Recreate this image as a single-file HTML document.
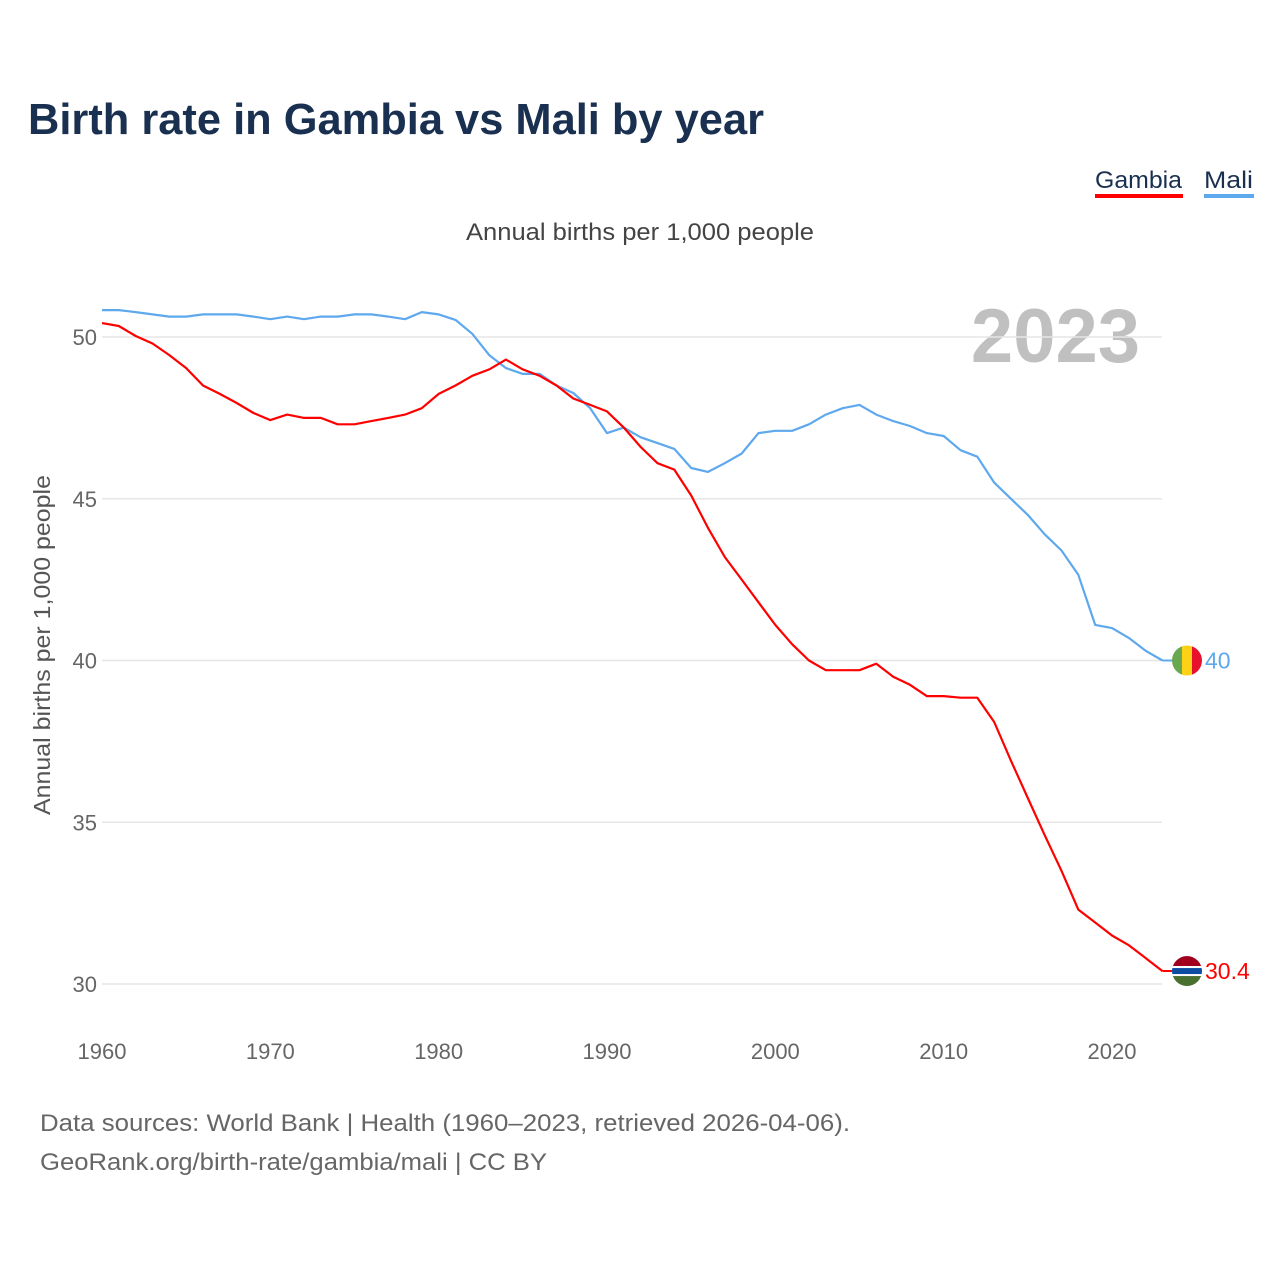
<!DOCTYPE html>
<html><head><meta charset="utf-8"><style>
html,body{margin:0;padding:0;background:#fff;}
svg{display:block;font-family:"Liberation Sans",sans-serif;}
</style></head><body>
<svg id="chart" width="1280" height="1280" viewBox="0 0 1280 1280" xmlns="http://www.w3.org/2000/svg">
<rect width="1280" height="1280" fill="#fff"/>
<text x="28" y="134" font-size="44" font-weight="bold" fill="#1a3050" textLength="736" lengthAdjust="spacingAndGlyphs">Birth rate in Gambia vs Mali by year</text>
<g>
<text x="1095" y="188" font-size="24" fill="#1a3050" textLength="87" lengthAdjust="spacingAndGlyphs">Gambia</text>
<rect x="1095" y="194" width="88" height="4" fill="#ff0000"/>
<text x="1204" y="188" font-size="24" fill="#1a3050" textLength="49" lengthAdjust="spacingAndGlyphs">Mali</text>
<rect x="1204" y="194" width="50" height="4" fill="#5ea8ee"/>
</g>
<text x="640" y="240" font-size="24" fill="#444" text-anchor="middle" textLength="348" lengthAdjust="spacingAndGlyphs">Annual births per 1,000 people</text>
<text x="1140" y="362" font-size="76" font-weight="bold" fill="#c0c0c0" text-anchor="end">2023</text>
<text transform="translate(50,645) rotate(-90)" font-size="23" fill="#555" text-anchor="middle" textLength="340" lengthAdjust="spacingAndGlyphs">Annual births per 1,000 people</text>
<g id="grid"></g><g id="lines"></g><g id="ends"></g>
<text x="40" y="1131" font-size="24" fill="#666" textLength="810" lengthAdjust="spacingAndGlyphs">Data sources: World Bank | Health (1960–2023, retrieved 2026-04-06).</text>
<text x="40" y="1170" font-size="24" fill="#666" textLength="507" lengthAdjust="spacingAndGlyphs">GeoRank.org/birth-rate/gambia/mali | CC BY</text>
</svg>
<script>
const years = [];
for (let y = 1960; y <= 2023; y++) years.push(y);
const yTicks = [30, 35, 40, 45, 50];
const xTicks = [1960, 1970, 1980, 1990, 2000, 2010, 2020];
const gambia = [50.43,50.34,50.03,49.8,49.44,49.04,48.5,48.24,47.96,47.65,47.43,47.6,47.5,47.5,47.3,47.3,47.4,47.5,47.6,47.8,48.24,48.5,48.8,49.0,49.3,49.0,48.8,48.5,48.1,47.9,47.7,47.2,46.6,46.1,45.9,45.1,44.1,43.2,42.5,41.8,41.1,40.5,40.0,39.7,39.7,39.7,39.9,39.5,39.25,38.9,38.9,38.85,38.85,38.1,36.9,35.75,34.6,33.5,32.3,31.9,31.5,31.2,30.8,30.4];
const mali = [50.83,50.83,50.77,50.7,50.63,50.63,50.7,50.7,50.7,50.63,50.55,50.63,50.55,50.63,50.63,50.7,50.7,50.63,50.55,50.77,50.7,50.53,50.1,49.44,49.04,48.86,48.86,48.5,48.27,47.8,47.03,47.2,46.9,46.72,46.54,45.95,45.83,46.1,46.4,47.03,47.1,47.1,47.3,47.6,47.8,47.9,47.6,47.4,47.25,47.03,46.94,46.5,46.3,45.5,45.0,44.5,43.9,43.4,42.65,41.1,41.0,40.7,40.3,40.0];
const NS = "http://www.w3.org/2000/svg";
const xS = v => 102 + (v - 1960) * (1112 - 102) / 60;
const yS = v => 337 + (50 - v) * (984 - 337) / 20;
function mk(tag, attrs, parent){const e=document.createElementNS(NS,tag);for(const k in attrs)e.setAttribute(k,attrs[k]);parent.appendChild(e);return e;}
const grid = document.getElementById('grid');
yTicks.forEach(t => {
  const l = mk('line',{x1:102,x2:1162,y1:yS(t),y2:yS(t),stroke:'#e6e6e6','stroke-width':1.5},grid);
  
  
  const tx = mk('text',{x:97,y:yS(t)+8,'font-size':22,fill:'#666','text-anchor':'end'},grid);
  tx.textContent = t;
  
  
});
xTicks.forEach(t => {
  const tx = mk('text',{x:xS(t),y:1059,'font-size':22,fill:'#666','text-anchor':'middle'},grid);
  tx.textContent = t;
  
  
});
const lines = document.getElementById('lines');
function series(vals, color, name){
  const d = vals.map((v,i)=>(i?'L':'M')+xS(years[i]).toFixed(1)+','+yS(v).toFixed(1)).join('');
  const p = mk('path',{d:d,fill:'none',stroke:color,'stroke-width':2.2,'stroke-linejoin':'round'},lines);
  
  
}
series(mali,'#5ea8ee','mali-line');
series(gambia,'#ff0000','gambia-line');
const ends = document.getElementById('ends');
const cx = 1187;
// Mali flag
const my = yS(mali[mali.length-1]);
mk('line',{x1:xS(2023),x2:cx,y1:my,y2:my,stroke:'#5ea8ee','stroke-width':2},ends);
const cm = mk('clipPath',{id:'cm'},ends); mk('circle',{cx:cx,cy:my,r:15},cm);
const mg = mk('g',{'clip-path':'url(#cm)'},ends);


mk('rect',{x:cx-15,y:my-15,width:10,height:30,fill:'#6aa84f'},mg);
mk('rect',{x:cx-5,y:my-15,width:10,height:30,fill:'#fcd116'},mg);
mk('rect',{x:cx+5,y:my-15,width:10,height:30,fill:'#e8112d'},mg);
const ml = mk('text',{x:1205,y:my+8,'font-size':23,fill:'#5ea8ee'},ends);
ml.textContent = '40';


// Gambia flag
const gy = yS(gambia[gambia.length-1]);
mk('line',{x1:xS(2023),x2:cx,y1:gy,y2:gy,stroke:'#ff0000','stroke-width':2},ends);
const cg = mk('clipPath',{id:'cg'},ends); mk('circle',{cx:cx,cy:gy,r:15},cg);
const gg = mk('g',{'clip-path':'url(#cg)'},ends);


mk('rect',{x:cx-15,y:gy-15,width:30,height:10,fill:'#a0001e'},gg);
mk('rect',{x:cx-15,y:gy-5,width:30,height:10,fill:'#fff'},gg);
mk('rect',{x:cx-15,y:gy-3,width:30,height:6,fill:'#0c4da2'},gg);
mk('rect',{x:cx-15,y:gy+5,width:30,height:10,fill:'#4a7030'},gg);
const gl = mk('text',{x:1205,y:gy+8,'font-size':23,fill:'#ff0000'},ends);
gl.textContent = '30.4';


</script>
</body></html>
